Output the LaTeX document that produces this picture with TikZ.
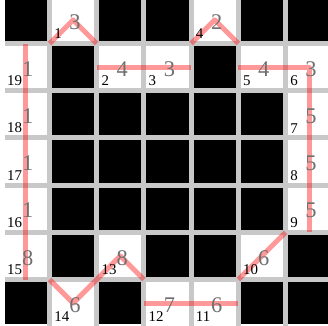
\documentclass[tikz,border=0pt]{standalone}
\usepackage{fontspec}
\setmainfont{Liberation Serif}
\usetikzlibrary{calc}
\definecolor{gridgray}{RGB}{200,200,200}
\definecolor{wtgray}{RGB}{112,112,112}
\tikzset{
  gline/.style={gridgray,line width=3pt},                          % grid line
  route/.style={red,opacity=0.4,line width=3pt,line join=round},   % pink route
  cnum/.style={font=\fontsize{9}{9}\selectfont,anchor=south west,inner sep=1pt}, % cell number
  wnum/.style={font=\fontsize{13.5}{13.5}\selectfont,text=wtgray,inner sep=0pt}, % cell weight
}
\newcommand{\blk}[2]{% col, row (row 0 on top)
  \fill[black] (#1+0.053,6.053-#2) rectangle (#1+0.947,6.947-#2);
}

\begin{document}
\begin{tikzpicture}
  \useasboundingbox (-0.049,0.036) rectangle (6.900,6.922);
  \fill[white] (-0.049,0.036) rectangle (6.900,6.922);
  \clip (-0.049,0.036) rectangle (6.900,6.922);
  % grid
  \foreach \k in {1,...,6} {
    \draw[gline] (0.06,\k) -- (7,\k);
    \draw[gline] (\k,0) -- (\k,7);
  }
  % blocked cells
  \foreach \c/\r in {0/0,2/0,3/0,5/0,6/0,1/1,4/1,1/5,3/5,4/5,6/5,0/6,2/6,5/6,6/6} {\blk{\c}{\r}}
  \foreach \r in {2,3,4} \foreach \c in {1,...,5} {\blk{\c}{\r}}
  % route
  \draw[route] (1,6) -- (1.5,6.5) -- (2,6);
  \draw[route] (2,5.5) -- (4,5.5);
  \draw[route] (4,6) -- (4.5,6.5) -- (5,6);
  \draw[route] (5,5.5) -- (6.5,5.5) -- (6.5,2);
  \draw[route] (6,2) -- (5,1);
  \draw[route] (5,0.5) -- (3,0.5);
  \draw[route] (3,1) -- (2.5,1.5) -- (2,1) -- (1.5,0.5) -- (1,1);
  \draw[route] (0.5,1) -- (0.5,6);
  % numbers and weights
  \foreach \n/\c/\r/\w in {1/1/0/3,2/2/1/4,3/3/1/3,4/4/0/2,5/5/1/4,6/6/1/3,7/6/2/5,
      8/6/3/5,9/6/4/5,10/5/5/6,11/4/6/6,12/3/6/7,13/2/5/8,14/1/6/6,15/0/5/8,
      16/0/4/1,17/0/3/1,18/0/2/1,19/0/1/1} {
    \node[wnum] (w\n) at (\c+0.54,6.46-\r) {\w};
    \node[cnum] (n\n) at (\c+0.06,6.06-\r) {\n};
  }
\end{tikzpicture}
\end{document}
